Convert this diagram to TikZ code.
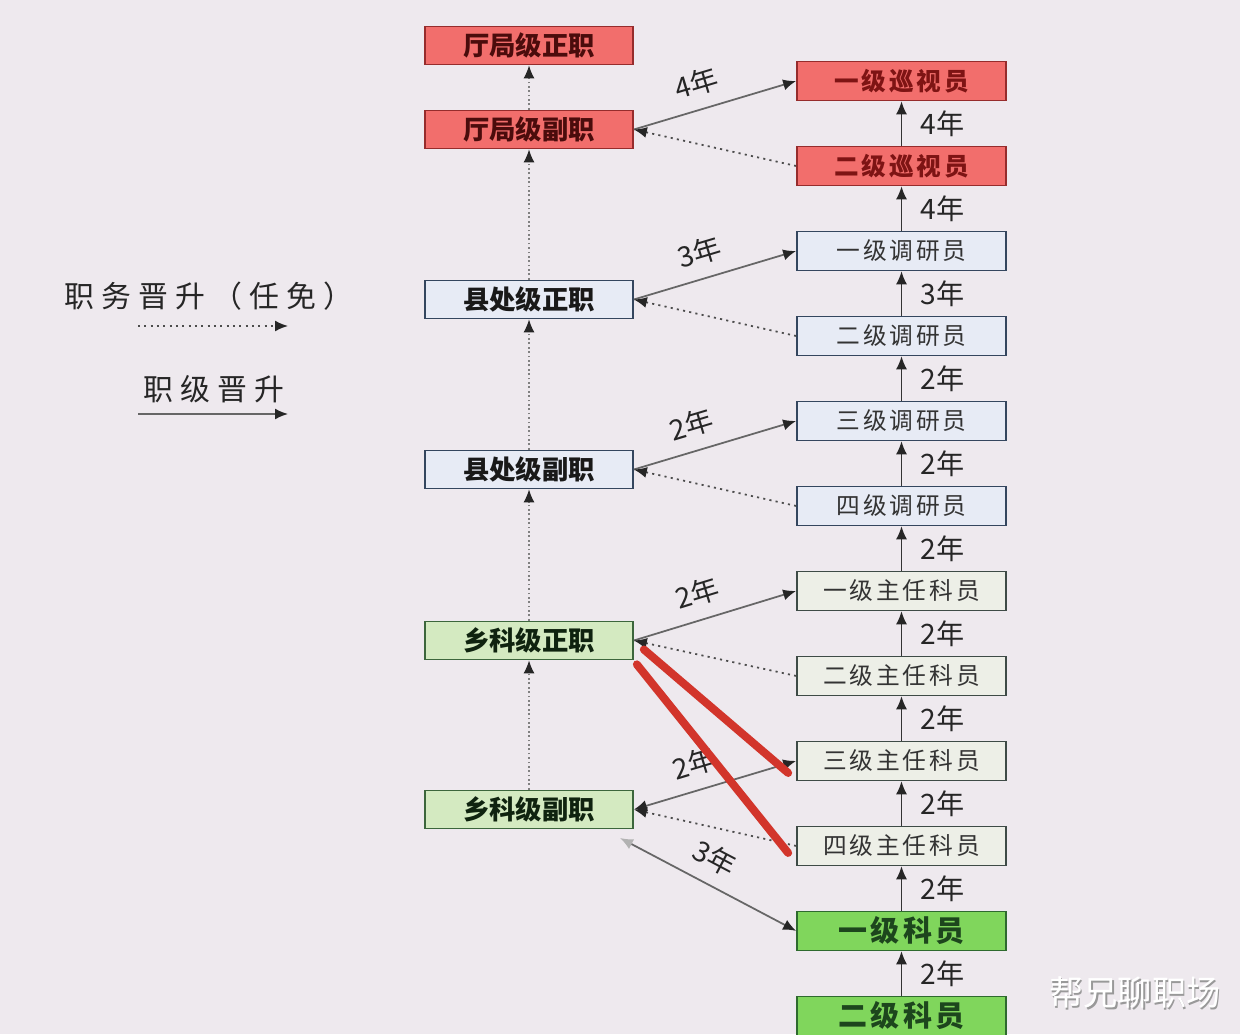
\documentclass[tikz,border=0pt]{standalone}
\usepackage{fontspec}
\usepackage{xcolor}
\usepackage{tikz}
\usetikzlibrary{positioning,arrows.meta}

\newfontfamily\cjk{Noto Sans CJK SC}
\newfontfamily\cjkwide[LetterSpace=12]{Noto Sans CJK SC}
\newfontfamily\cjklegend[LetterSpace=24]{Noto Sans CJK SC}

\definecolor{bgpaper}{HTML}{EEE9EE}
\definecolor{redfill}{HTML}{F26E6C}
\definecolor{redline}{HTML}{962C2C}
\definecolor{redtext}{HTML}{7E1414}
\definecolor{bluefill}{HTML}{E7EBF5}
\definecolor{blueline}{HTML}{34465E}
\definecolor{palefill}{HTML}{EDEFE7}
\definecolor{paleline}{HTML}{3E4B46}
\definecolor{leaffill}{HTML}{D4EAC1}
\definecolor{leafline}{HTML}{3C663C}
\definecolor{grassfill}{HTML}{80D65C}
\definecolor{grassline}{HTML}{2E6A2E}
\definecolor{grasstext}{HTML}{1D461D}
\definecolor{markred}{HTML}{D2352B}

\newcommand{\yrs}[1]{{\cjk #1年}}

\begin{document}
\begin{tikzpicture}[
  x=0.02cm, y=-0.02cm,
  node distance=0.885cm,
  >={Latex[length=2.6mm,width=2.2mm,color=black!85]},
  post/.style={draw, line width=1pt, minimum width=4.16cm, minimum height=0.76cm, inner sep=0pt, text=black!90, font=\cjk\bfseries\fontsize{15}{15}\selectfont},
  postred/.style={post, fill=redfill, draw=redline, text=redtext!60!black},
  postblue/.style={post, fill=bluefill, draw=blueline},
  postleaf/.style={post, fill=leaffill, draw=leafline, text=grasstext!50!black},
  grade/.style={draw, line width=1pt, minimum width=4.18cm, minimum height=0.78cm, inner sep=0pt, text=black!80, font=\cjkwide\fontsize{13.5}{13.5}\selectfont},
  gradered/.style={grade, fill=redfill, draw=redline, text=redtext, font=\cjkwide\bfseries\fontsize{14}{14}\selectfont},
  gradeblue/.style={grade, fill=bluefill, draw=blueline},
  gradepale/.style={grade, fill=palefill, draw=paleline},
  gradegrass/.style={grade, fill=grassfill, draw=grassline, text=grasstext, font=\cjkwide\bfseries\fontsize{16.5}{16.5}\selectfont},
  upstep/.style={->, line width=0.8pt, draw=black!80},
  uptrack/.style={->, line width=0.8pt, draw=black!50, dash pattern=on 1pt off 1.5pt},
  promo/.style={->, line width=1pt, draw=black!60},
  appoint/.style={->, line width=1pt, draw=black!70, dash pattern=on 1.2pt off 2.4pt},
  yr/.style={font=\fontsize{16}{16}\selectfont, text=black!85},
  legendtxt/.style={font=\cjklegend\fontsize{17}{17}\selectfont, text=black!85},
  wmark/.style={font=\cjk\fontsize{19.5}{19.5}\selectfont},
  markstroke/.style={draw=markred, line width=1.6mm, line cap=round}
]
\useasboundingbox (0,0) rectangle (1240,1034);
\fill[bgpaper] (0,0) rectangle (1240,1034);

\node[legendtxt] (lgduty) at (209,296) {职务晋升（任免）};
\coordinate (lgd1) at (138,326);
\coordinate (lgd2) at (288,326);
\node[legendtxt] (lgrank) at (214,389) {职级晋升};
\coordinate (lgr1) at (138,414);
\coordinate (lgr2) at (288,414);
\draw[appoint] (lgd1) -- (lgd2);
\draw[promo] (lgr1) -- (lgr2);

\node[postred] (tjz) at (529,45.5) {厅局级正职};
\node[postred] (tjf) at (529,129.5) {厅局级副职};
\node[postblue] (xcz) at (529,299.5) {县处级正职};
\node[postblue] (xcf) at (529,469.5) {县处级副职};
\node[postleaf] (xkz) at (529,640.5) {乡科级正职};
\node[postleaf] (xkf) at (529,809.5) {乡科级副职};

\node[gradered] (xs1) at (901.5,81) {一级巡视员};
\node[gradered, below=of xs1] (xs2) {二级巡视员};
\node[gradeblue, below=of xs2] (dy1) {一级调研员};
\node[gradeblue, below=of dy1] (dy2) {二级调研员};
\node[gradeblue, below=of dy2] (dy3) {三级调研员};
\node[gradeblue, below=of dy3] (dy4) {四级调研员};
\node[gradepale, below=of dy4] (zr1) {一级主任科员};
\node[gradepale, below=of zr1] (zr2) {二级主任科员};
\node[gradepale, below=of zr2] (zr3) {三级主任科员};
\node[gradepale, below=of zr3] (zr4) {四级主任科员};
\node[gradegrass, below=of zr4] (ky1) {一级科员};
\node[gradegrass, below=of ky1] (ky2) {二级科员};

\draw[uptrack] (tjf) -- (tjz);
\draw[uptrack] (xcz) -- (tjf);
\draw[uptrack] (xcf) -- (xcz);
\draw[uptrack] (xkz) -- (xcf);
\draw[uptrack] (xkf) -- (xkz);

\draw[upstep] (ky2) -- node[yr, right=0.25cm] {\yrs{2}} (ky1);
\draw[upstep] (ky1) -- node[yr, right=0.25cm] {\yrs{2}} (zr4);
\draw[upstep] (zr4) -- node[yr, right=0.25cm] {\yrs{2}} (zr3);
\draw[upstep] (zr3) -- node[yr, right=0.25cm] {\yrs{2}} (zr2);
\draw[upstep] (zr2) -- node[yr, right=0.25cm] {\yrs{2}} (zr1);
\draw[upstep] (zr1) -- node[yr, right=0.25cm] {\yrs{2}} (dy4);
\draw[upstep] (dy4) -- node[yr, right=0.25cm] {\yrs{2}} (dy3);
\draw[upstep] (dy3) -- node[yr, right=0.25cm] {\yrs{2}} (dy2);
\draw[upstep] (dy2) -- node[yr, right=0.25cm] {\yrs{3}} (dy1);
\draw[upstep] (dy1) -- node[yr, right=0.25cm] {\yrs{4}} (xs2);
\draw[upstep] (xs2) -- node[yr, right=0.25cm] {\yrs{4}} (xs1);

\draw[promo] (tjf.east) -- node[yr, sloped, above=4pt, pos=0.43] {\yrs{4}} (xs1.west);
\draw[promo] (xcz.east) -- node[yr, sloped, above=4pt, pos=0.45] {\yrs{3}} (dy1.west);
\draw[promo] (xcf.east) -- node[yr, sloped, above=4pt, pos=0.4] {\yrs{2}} (dy3.west);
\draw[promo] (xkz.east) -- node[yr, sloped, above=4pt, pos=0.44] {\yrs{2}} (zr1.west);
\draw[promo, <->] (xkf.east) -- node[yr, sloped, above=4pt, pos=0.42] {\yrs{2}} (zr3.west);
\coordinate (xkftail) at (620,838);
\draw[promo, {Latex[length=2.6mm,width=2.2mm,color=black!30]}->] (xkftail) -- node[yr, sloped, above=4pt, pos=0.47] {\yrs{3}} (ky1.west);

\draw[appoint] (xs2.west) -- (tjf.east);
\draw[appoint] (dy2.west) -- (xcz.east);
\draw[appoint] (dy4.west) -- (xcf.east);
\draw[appoint] (zr2.west) -- (xkz.east);
\draw[appoint] (zr4.west) -- (xkf.east);

\draw[markstroke] ([shift={(10,9)}]xkz.east) -- ([shift={(-8,12)}]zr3.west);
\draw[markstroke] ([shift={(3,4)}]xkz.south east) -- ([shift={(-8,7)}]zr4.west);

\node[wmark, text=black!40] (wmshade) at (1136.5,994.5) {帮兄聊职场};
\node[wmark, text=white] (wm) at (1135,993) {帮兄聊职场};
\end{tikzpicture}
\end{document}
